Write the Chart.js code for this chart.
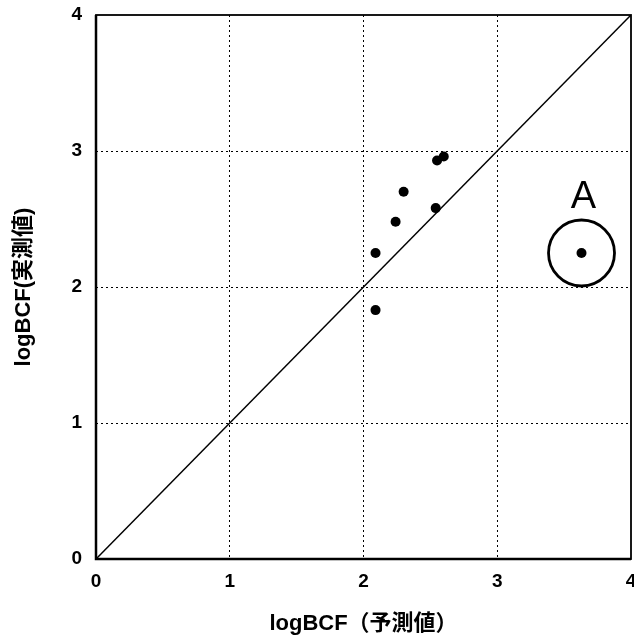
<!DOCTYPE html>
<html>
<head>
<meta charset="utf-8">
<script src="https://cdn.jsdelivr.net/npm/chart.js@4/dist/chart.umd.min.js"></script>
<style>
  html, body { margin: 0; padding: 0; background: #fff; }
  canvas { display: block; }
</style>
</head>
<body>
<canvas id="c" width="634" height="640"></canvas>
<script>
// logBCF: predicted (x) vs measured (y)
const predicted = [2.09, 2.09, 2.24, 2.30, 2.54, 2.55, 2.60];
const measured  = [2.25, 1.83, 2.48, 2.70, 2.58, 2.93, 2.96];
// outlier compound "A"
const outlierLabel = 'A';
const outlierPredicted = [3.63];
const outlierMeasured  = [2.25];
// 1:1 reference line
const identityLine = [0, 4];
const tickValues = [0, 1, 2, 3, 4];

const FONT = '"Liberation Sans", Arial, "Noto Sans CJK JP", sans-serif';

const toPoints = (xs, ys) => xs.map((x, i) => ({ x, y: ys[i] }));

const framePlugin = {
  id: 'frameAndLabel',
  afterDatasetsDraw(chart) {
    const { ctx, chartArea: a, scales } = chart;
    ctx.save();
    // plot frame
    ctx.strokeStyle = '#000';
    ctx.lineWidth = 1.8;
    ctx.strokeRect(a.left, a.top, a.right - a.left, a.bottom - a.top);
    ctx.lineWidth = 2.5;
    ctx.beginPath();
    ctx.moveTo(a.left, a.top);
    ctx.lineTo(a.left, a.bottom);
    ctx.lineTo(a.right, a.bottom);
    ctx.stroke();
    // outlier tag above its ring
    const px = scales.x.getPixelForValue(outlierPredicted[0]);
    const py = scales.y.getPixelForValue(outlierMeasured[0]);
    ctx.fillStyle = '#000';
    ctx.font = '38px ' + FONT;
    ctx.textAlign = 'center';
    ctx.textBaseline = 'middle';
    ctx.fillText(outlierLabel, px + 2, py - 55);
    ctx.restore();
  }
};

const gridColor = ctx => (ctx.tick && (ctx.tick.value === 0 || ctx.tick.value === 4)) ? 'rgba(0,0,0,0)' : '#000';

new Chart(document.getElementById('c'), {
  type: 'scatter',
  data: {
    datasets: [
      {
        data: toPoints(identityLine, identityLine),
        showLine: true,
        borderColor: '#000',
        borderWidth: 1.5,
        pointRadius: 0,
        order: 3
      },
      {
        data: toPoints(predicted, measured),
        backgroundColor: '#000',
        borderWidth: 0,
        pointRadius: 5,
        order: 1
      },
      {
        data: toPoints(outlierPredicted, outlierMeasured),
        backgroundColor: '#000',
        borderWidth: 0,
        pointRadius: 5,
        order: 1
      },
      {
        // ring marking the outlier
        data: toPoints(outlierPredicted, outlierMeasured),
        backgroundColor: 'rgba(0,0,0,0)',
        borderColor: '#000',
        borderWidth: 2.8,
        pointRadius: 33,
        order: 2
      }
    ]
  },
  options: {
    responsive: false,
    animation: false,
    layout: { autoPadding: false, padding: { top: 15, right: 3, left: 0, bottom: 0 } },
    plugins: {
      legend: { display: false },
      tooltip: { enabled: false }
    },
    scales: {
      x: {
        type: 'linear',
        min: 0, max: 4,
        afterBuildTicks: s => { s.ticks = tickValues.map(v => ({ value: v })); },
        afterFit: s => { s.height = 81; s.paddingLeft = 0; s.paddingRight = 0; },
        grid: { color: gridColor, lineWidth: 1, drawTicks: false },
        border: { display: false, dash: [2, 3] },
        ticks: {
          color: '#000',
          padding: 11,
          maxRotation: 0,
          font: { family: FONT, size: 19, weight: 'bold' }
        },
        title: {
          display: true,
          text: 'logBCF（予測値）',
          color: '#000',
          padding: { top: 0, bottom: 3 },
          font: { family: FONT, size: 22, weight: 'bold' }
        }
      },
      y: {
        type: 'linear',
        min: 0, max: 4,
        afterBuildTicks: s => { s.ticks = tickValues.map(v => ({ value: v })); },
        afterFit: s => { s.width = 96; s.paddingTop = 0; s.paddingBottom = 0; },
        grid: { color: gridColor, lineWidth: 1, drawTicks: false },
        border: { display: false, dash: [2, 3] },
        ticks: {
          color: '#000',
          padding: 14,
          font: { family: FONT, size: 19, weight: 'bold' }
        },
        title: {
          display: true,
          text: 'logBCF(実測値)',
          color: '#000',
          padding: { top: 11, bottom: 0 },
          font: { family: FONT, size: 22, weight: 'bold' }
        }
      }
    }
  },
  plugins: [framePlugin]
});
</script>
</body>
</html>
